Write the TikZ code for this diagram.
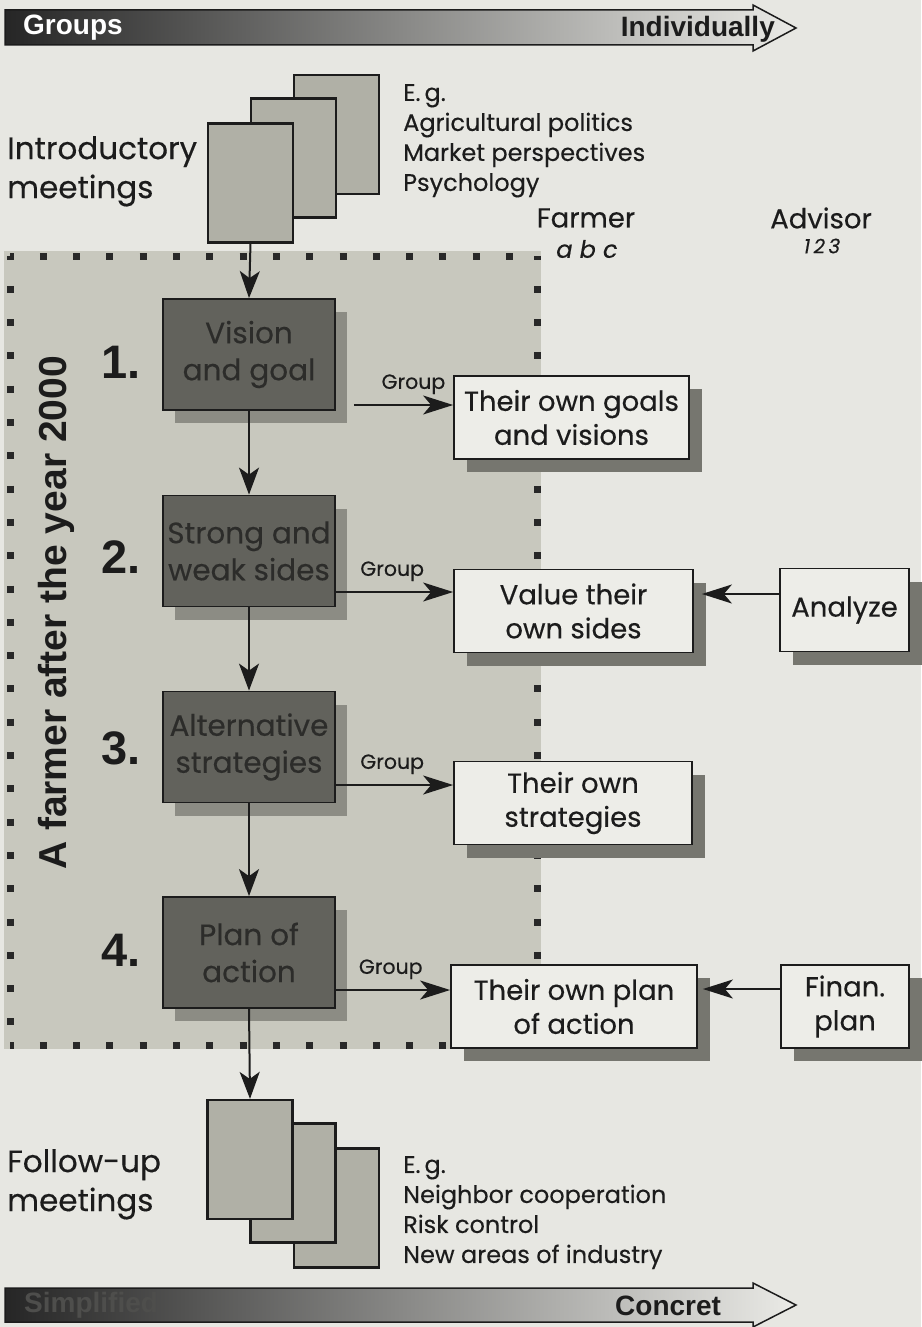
\documentclass[tikz,border=0pt]{standalone}
\usepackage{fontspec}
\setmainfont{Poppins}[FakeBold=0.3]
\newfontfamily\hvfont{Liberation Sans}
\usetikzlibrary{arrows.meta,shadows,calc}
\definecolor{bgc}{RGB}{231,231,226}
\definecolor{regc}{RGB}{200,200,190}
\definecolor{dboxc}{RGB}{98,98,92}
\definecolor{dshadc}{RGB}{140,140,132}
\definecolor{lboxc}{RGB}{237,237,232}
\definecolor{lshadc}{RGB}{118,118,111}
\definecolor{stackc}{RGB}{176,176,166}
\definecolor{dtextc}{RGB}{44,44,42}
\definecolor{inkc}{RGB}{28,28,28}
\definecolor{dotc}{RGB}{40,40,40}
\tikzset{
  darkbox/.style={draw=inkc, line width=1.8pt, fill=dboxc, minimum width=172pt, minimum height=111pt,
    inner sep=0pt, align=center, text=dtextc, font=\fontsize{29.5}{37}\selectfont,
    drop shadow={shadow xshift=12pt, shadow yshift=-13pt, fill=dshadc, opacity=1}},
  lightbox/.style={draw=inkc, line width=1.8pt, fill=lboxc, minimum height=83pt,
    inner sep=0pt, align=center, text=inkc, font=\fontsize{27.5}{34}\selectfont,
    drop shadow={shadow xshift=13pt, shadow yshift=-13pt, fill=lshadc, opacity=1}},
  stackbox/.style={draw=inkc, line width=2.2pt, fill=stackc, minimum width=85pt, minimum height=119pt, inner sep=0pt},
  vflow/.style={line width=2pt, draw=inkc, -{Stealth[length=27pt,width=20pt,inset=7pt]}},
  hflow/.style={line width=1.6pt, draw=inkc, -{Stealth[length=30pt,width=19pt,inset=8pt]}},
  grouplbl/.style={font=\fontsize{20.5}{22}\selectfont, text=inkc, inner sep=0pt, above=10pt},
  dotline/.style={draw=dotc, line width=7pt, dash pattern=on 7pt off 26.3pt, dash phase=3.5pt},
  numlbl/.style={font=\hvfont\bfseries\fontsize{47}{50}\selectfont, text=inkc, inner sep=0pt, anchor=base east},
  bigtxt/.style={font=\fontsize{31}{39}\selectfont, text=inkc, inner sep=0pt, align=left, anchor=north west},
  listtxt/.style={font=\fontsize{24}{30}\selectfont, text=inkc, inner sep=0pt, align=left, anchor=north west},
  bartxt/.style={font=\hvfont\bfseries\fontsize{28}{30}\selectfont, inner sep=0pt},
  colhead/.style={font=\fontsize{27.5}{30}\selectfont, text=inkc, inner sep=0pt}
}
\begin{document}
\begin{tikzpicture}[x=1pt,y=-1pt]
\useasboundingbox (0,0) rectangle (921,1327);
\fill[bgc] (0,0) rectangle (921,1327);

% top and bottom bars
\shadedraw[left color={rgb,255:red,38;green,38;blue,38}, middle color={rgb,255:red,160;green,160;blue,152}, right color={rgb,255:red,234;green,234;blue,230}, draw=inkc, line width=1.5pt]
  (5,10) -- (753,10) -- (753,5) -- (796,28) -- (753,51) -- (753,45) -- (5,45) -- cycle;
\node[bartxt, text=white, anchor=west] (groups) at (23,28) {Groups};
\node[bartxt, text=inkc, anchor=east] (indiv) at (775,29) {Individually};

\shadedraw[left color={rgb,255:red,38;green,38;blue,38}, middle color={rgb,255:red,160;green,160;blue,152}, right color={rgb,255:red,234;green,234;blue,230}, draw=inkc, line width=1.5pt]
  (5,1288) -- (753,1288) -- (753,1283) -- (796,1305) -- (753,1327) -- (753,1322) -- (5,1322) -- cycle;
\node[bartxt, text={rgb,255:red,78;green,78;blue,76}, anchor=west] (simpl) at (24,1305) {Simplified};
\node[bartxt, text=inkc, anchor=west] (concr) at (615,1306) {Concret};

% dotted region
\fill[regc] (4,251) rectangle (541,1049);
\draw[dotline] (10,256) -- (537,256);
\draw[dotline] (10,256) -- (10,1045);
\draw[dotline] (10,1045) -- (537,1045);
\draw[dotline] (537,256) -- (537,1045);

% intro stack
\node[stackbox] (i3) at (336.5,134.5) {};
\node[stackbox] (i2) at (293.5,158) {};
\node[stackbox] (i1) at (250.5,183) {};
\node[bigtxt] (introlbl) at (7,136) {Introductory\\meetings};
\node[listtxt] (introlist) at (403,84) {E.\,g.\\Agricultural politics\\Market perspectives\\Psychology};

% follow-up stack
\node[stackbox] (f3) at (336.5,1208) {};
\node[stackbox] (f2) at (293,1183) {};
\node[stackbox] (f1) at (250,1159.5) {};
\node[bigtxt] (followlbl) at (7,1149) {Follow-up\\meetings};
\node[listtxt] (followlist) at (403,1156) {E.\,g.\\Neighbor cooperation\\Risk control\\New areas of industry};

% column heads
\node[colhead] (farmer) at (586,218) {Farmer};
\node[colhead, font=\itshape\fontsize{24}{26}\selectfont] (abc) at (587,249) {a b c};
\node[colhead] (advisor) at (821,218) {Advisor};
\node[colhead, font=\itshape\fontsize{20}{22}\selectfont] (ott) at (822,246) {1\,2\,3};

% vertical title
\node[rotate=90, font=\hvfont\bfseries\fontsize{39}{42}\selectfont, text=inkc, inner sep=0pt] (vtitle) at (56,613) {A farmer after the year 2000};

% steps
\node[darkbox] (b1) at (249,354.5) {Vision\\and goal};
\node[darkbox] (b2) at (249,551) {Strong and\\weak sides};
\node[darkbox] (b3) at (249,747) {Alternative\\strategies};
\node[darkbox] (b4) at (249,952.5) {Plan of\\action};
\node[numlbl] (n1) at (141,378) {1.};
\node[numlbl] (n2) at (141,573) {2.};
\node[numlbl] (n3) at (141,764) {3.};
\node[numlbl] (n4) at (141,966) {4.};

% right boxes
\node[lightbox, minimum width=235pt] (r1) at (571.5,417.5) {Their own goals\\and visions};
\node[lightbox, minimum width=239pt] (r2) at (573.5,611) {Value their\\own sides};
\node[lightbox, minimum width=238pt] (r3) at (573,803) {Their own\\strategies};
\node[lightbox, minimum width=246pt] (r4) at (574,1006.5) {Their own plan\\of action};
\node[lightbox, minimum width=129pt] (an) at (844.5,610) {Analyze};
\node[lightbox, minimum width=128pt] (fp) at (845,1006.5) {Finan.\\plan};

% vertical flow
\draw[vflow] (i1.south) -- (b1.north);
\draw[vflow] (b1.south) -- (b2.north);
\draw[vflow] (b2.south) -- (b3.north);
\draw[vflow] (b3.south) -- (b4.north);
\draw[vflow] (b4.south) -- (f1.north);

% group arrows
\coordinate (y1) at (0,405);
\coordinate (y2) at (0,592);
\coordinate (y3) at (0,785);
\coordinate (y4) at (0,990);
\draw[hflow] ([xshift=18pt]b1.east |- y1) -- (r1.west |- y1) node[grouplbl, pos=0.6] {Group};
\draw[hflow] (b2.east |- y2) -- (r2.west |- y2) node[grouplbl, pos=0.48] {Group};
\draw[hflow] (b3.east |- y3) -- (r3.west |- y3) node[grouplbl, pos=0.48] {Group};
\draw[hflow] (b4.east |- y4) -- (r4.west |- y4) node[grouplbl, pos=0.48] {Group};

% advisor arrows
\coordinate (ya) at (0,594);
\coordinate (yf) at (0,989);
\draw[hflow] (an.west |- ya) -- ([xshift=8pt]r2.east |- ya);
\draw[hflow] (fp.west |- yf) -- ([xshift=5pt]r4.east |- yf);
\end{tikzpicture}
\end{document}
